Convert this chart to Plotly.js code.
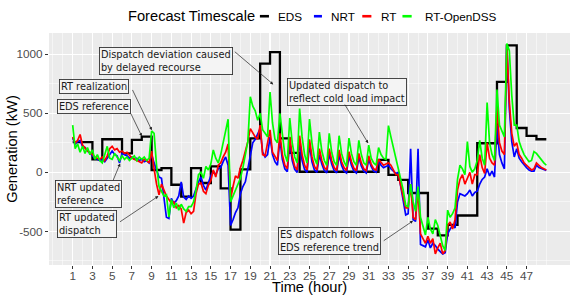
<!DOCTYPE html>
<html>
<head>
<meta charset="utf-8">
<script src="https://cdn.plot.ly/plotly-3.0.1.min.js"></script>
<style>html,body{margin:0;padding:0;background:#fff;}#chart{width:574px;height:299px;}</style>
</head>
<body>
<div id="chart"></div>
<script>
// ---- data ----
var edsHours = [1,2,3,4,5,6,7,8,9,10,11,12,13,14,15,16,17,18,19,20,21,22,23,24,25,26,27,28,29,30,31,32,33,34,35,36,37,38,39,40,41,42,43,44,45,46,47,48,49];
var edsValues = [255,255,110,280,280,160,274,302,20,35,-105,-205,35,-90,50,-135,-485,25,288,920,1018,288,164,5,5,5,5,5,5,5,5,105,-21,-63,-175,-175,-476,-533,-445,-365,-365,246,246,765,1075,375,309,280,280];

var rtTime = [
1,1.25,1.5,1.75, 2,2.25,2.5,2.75, 3,3.25,3.5,3.75, 4,4.25,4.5,4.75, 5,5.25,5.5,5.75, 6,6.25,6.5,6.75,
7,7.25,7.5,7.75, 8,8.25,8.5,8.75, 9,9.25,9.5,9.75, 10,10.25,10.5,10.75, 11,11.25,11.5,11.75, 12,12.25,12.5,12.75,
13,13.25,13.5,13.75, 14,14.25,14.5,14.75, 15,15.25,15.5,15.75, 16,16.25,16.5,16.75, 17,17.25,17.5,17.75, 18,18.25,18.5,18.75,
19,19.25,19.5,19.75, 20,20.25,20.5,20.75, 21,21.25,21.5,21.75, 22,22.25,22.5,22.75, 23,23.25,23.5,23.75, 24,24.25,24.5,24.75,
25,25.25,25.5,25.75, 26,26.25,26.5,26.75, 27,27.25,27.5,27.75, 28,28.25,28.5,28.75, 29,29.25,29.5,29.75, 30,30.25,30.5,30.75,
31,31.25,31.5,31.75, 32,32.25,32.5,32.75, 33,33.25,33.5,33.75, 34,34.25,34.5,34.75, 35,35.25,35.5,35.75, 36,36.25,36.5,36.75,
37,37.25,37.5,37.75, 38,38.25,38.5,38.75, 39,39.25,39.5,39.75, 40,40.25,40.5,40.75, 41,41.25,41.5,41.75, 42,42.25,42.5,42.75,
43,43.25,43.5,43.75, 44,44.25,44.5,44.75, 45,45.25,45.5,45.75, 46,46.25,46.5,46.75, 47,47.25,47.5,47.75, 48,48.25,48.5,48.75,
49];

var nrtValues = [
290,240,260,270, 220,210,180,160, 140,120,110,100, 110,90,120,150, 180,150,140,80, 160,150,140,120,
130,110,120,100, 110,90,100,80, 150,80,20,-40, -50,-200,-380,-390, -220,-260,-240,-200, -80,-210,-230,-200,
-220,-200,-130,-80, -40,-110,-150,-90, -30,10,-20,30, 40,90,130,60, -450,-400,-340,-300, -180,-120,-80,30,
150,250,280,320, 370,170,130,150, 300,150,90,60, 280,110,30,5, 260,100,25,0, 260,100,25,0,
240,90,20,0, 150,70,15,-5, 160,70,15,-5, 150,60,10,-5, 140,60,10,-5, 130,55,10,-5,
110,50,10,0, 100,60,40,50, 60,30,10,-10, 0,-120,-250,-360, -350,200,-400,-415, 200,-610,-620,-630,
-570,-640,-600,-620, -650,-670,-690,-680, -520,-480,-450,-470, -250,-180,-190,-200, -180,-150,-200,-170, -160,-100,-60,-40,
30,-30,10,-40, 400,150,80,30, 1080,540,260,130, 200,120,90,60, 40,20,10,10, 60,40,30,20,
15];

var rtValues = [
300,250,270,320, 230,200,180,170, 150,130,120,110, 130,100,140,200, 220,190,200,170, 180,160,170,140,
120,110,100,90, 80,110,100,80, 180,30,-100,-190, -100,-150,-200,-230, -260,-250,-300,-280, -310,-430,-340,-320,
-350,-330,-180,-100, -90,-160,-180,-110, -70,20,-40,60, 80,130,170,240, -230,-120,-30,-50, 40,100,180,260,
370,330,300,280, 400,150,140,250, 360,170,130,100, 330,150,60,30, 300,140,50,20, 310,150,60,20,
280,130,50,20, 200,100,40,20, 200,100,40,15, 190,90,40,15, 175,90,35,15, 160,80,30,15,
140,70,30,20, 110,80,60,70, 80,60,20,-20, -20,-120,-220,-300, -300,-100,-380,-400, -150,-520,-560,-600,
-540,-600,-560,-690, -640,-600,-690,-660, -450,-420,-480,-400, -150,-60,-20,-100, -50,0,-100,-20, -20,150,40,-10,
250,120,80,60, 550,250,180,150, 1070,600,330,220, 250,150,120,80, 60,40,20,30, 80,60,40,30,
20];

var rtOpenDssValues = [
400,200,240,170, 220,160,210,150, 190,110,150,100, 80,150,220,120, 110,160,130,100, 140,110,130,100,
120,140,100,130, 110,130,100,120, 350,330,60,-120, -160,-200,-190,-380, -230,-300,-260,-320, -270,-310,-330,-290,
-290,-250,-150,-20, 0,-50,50,20, 70,190,120,80, 150,250,330,450, -250,-200,-150,-100, -50,40,140,260,
640,560,520,440, 500,360,330,300, 680,420,280,250, 500,300,150,90, 460,250,130,80, 540,300,150,80,
450,250,120,70, 340,180,100,60, 330,170,90,60, 310,160,90,50, 290,160,90,60, 270,150,80,60,
230,120,80,60, 210,150,120,110, 395,300,200,100, 30,-60,-150,-280, -290,-100,-250,-330, -120,-380,-450,-530,
-380,-480,-520,-400, -450,-550,-620,-660, -320,-380,-350,-300, -60,60,30,-20, 260,50,0,30, 100,270,120,60,
590,250,150,100, 700,400,350,300, 1090,1030,650,400, 400,260,200,150, 120,90,100,175, 160,130,100,80,
60];

var seriesNames = ['EDS', 'NRT', 'RT', 'RT-OpenDSS'];
var seriesColors = ['#000000', '#0000ff', '#ff0000', '#00ff00'];

var xTickVals = [1,3,5,7,9,11,13,15,17,19,21,23,25,27,29,31,33,35,37,39,41,43,45,47];
var xMinorVals = [-1,0,1,2,3,4,5,6,7,8,9,10,11,12,13,14,15,16,17,18,19,20,21,22,23,24,25,26,27,28,29,30,31,32,33,34,35,36,37,38,39,40,41,42,43,44,45,46,47,48,49];
var yTickVals = [-500, 0, 500, 1000];
var yTickText = ['-500', '0', '500', '1000'];
var yMinorVals = [-750, -250, 250, 750];

var legendTitle = 'Forecast Timescale';
var xTitle = 'Time (hour)';
var yTitle = 'Generation (kW)';

var noteTexts = [
  'Dispatch deviation caused<br>by delayed recourse',
  'RT realization',
  'EDS reference',
  'NRT updated<br>reference',
  'RT updated<br>dispatch',
  'Updated dispatch to<br>reflect cold load impact',
  'ES dispatch follows<br>EDS reference trend'
];
var noteBox = [[10.42, 942], [3.21, 729], [3.13, 561], [2.62, -186], [2.42, -438], [28.84, 683], [27.02, -583]];
var noteArrow = [
  [17.28, 1031, 21.33, 744],
  [6.99, 710, 9.02, 356],
  [6.82, 510, 8.01, 305],
  [5.03, -81, 5.81, 75],
  [5.64, -427, 9.69, -201],
  [28.49, 586, 30.95, 246],
  [32.37, -587, 35.50, -410]
];

// ---- traces ----
var traces = [
  {x: edsHours, y: edsValues, type: 'scatter', mode: 'lines', line: {shape: 'hv', color: seriesColors[0], width: 2.3}, name: seriesNames[0]},
  {x: rtTime, y: nrtValues, type: 'scatter', mode: 'lines', line: {color: seriesColors[1], width: 1.7}, name: seriesNames[1]},
  {x: rtTime, y: rtValues, type: 'scatter', mode: 'lines', line: {color: seriesColors[2], width: 1.7}, name: seriesNames[2]},
  {x: rtTime, y: rtOpenDssValues, type: 'scatter', mode: 'lines', line: {color: seriesColors[3], width: 1.7}, name: seriesNames[3]}
];

// ---- annotations ----
var annotations = [];
for (var i = 0; i < noteTexts.length; i++) {
  annotations.push({
    x: noteBox[i][0], y: noteBox[i][1], xref: 'x', yref: 'y',
    text: noteTexts[i], showarrow: false, align: 'left',
    font: {family: 'DejaVu Sans', size: 9.8, color: '#1a1a1a'},
    bgcolor: '#f4f4f4', bordercolor: '#333333', borderwidth: 0.9, borderpad: 1
  });
  annotations.push({
    x: noteArrow[i][2], y: noteArrow[i][3], ax: noteArrow[i][0], ay: noteArrow[i][1],
    xref: 'x', yref: 'y', axref: 'x', ayref: 'y', text: '', showarrow: true,
    arrowhead: 2, arrowsize: 0.9, arrowwidth: 0.7, arrowcolor: '#222222', standoff: 0, startstandoff: 0
  });
}

// axis titles
annotations.push({x: 0.5, y: -0.0946, xref: 'paper', yref: 'paper', xanchor: 'center', yanchor: 'middle',
  text: xTitle, showarrow: false, font: {family: 'Liberation Sans', size: 14.67, color: '#000'}});
annotations.push({x: -0.0715, y: 0.5, xref: 'paper', yref: 'paper', xanchor: 'center', yanchor: 'middle', textangle: -90,
  text: yTitle, showarrow: false, font: {family: 'Liberation Sans', size: 14.67, color: '#000'}});

// legend built as text + key lines (paper coordinates)
var legendY = 1.0723;
annotations.push({x: 0.1486, y: legendY, xref: 'paper', yref: 'paper', xanchor: 'left', yanchor: 'middle',
  text: legendTitle, showarrow: false, font: {family: 'Liberation Sans', size: 14.67, color: '#000'}});
var legendKeyX = [[0.4048, 0.4222], [0.5085, 0.5239], [0.6013, 0.6188], [0.6784, 0.6961]];
var legendTextX = [0.4364, 0.5381, 0.6328, 0.7172];
var shapes = [];
for (var k = 0; k < seriesNames.length; k++) {
  shapes.push({type: 'line', xref: 'paper', yref: 'paper', x0: legendKeyX[k][0], x1: legendKeyX[k][1], y0: legendY, y1: legendY,
    line: {color: seriesColors[k], width: 2.6}});
  annotations.push({x: legendTextX[k], y: legendY, xref: 'paper', yref: 'paper', xanchor: 'left', yanchor: 'middle',
    text: seriesNames[k], showarrow: false, font: {family: 'Liberation Sans', size: 11.73, color: '#000'}});
}

var layout = {
  width: 574, height: 299,
  margin: {l: 48.8, r: 3.7, t: 32.5, b: 34, pad: 0},
  paper_bgcolor: '#ffffff', plot_bgcolor: '#ebebeb',
  showlegend: false,
  font: {family: 'Liberation Sans'},
  xaxis: {
    range: [-1.4, 51.4], tickmode: 'array', tickvals: xTickVals,
    ticks: 'outside', ticklen: 3, tickwidth: 1, tickcolor: '#333333', ticklabelstandoff: -3,
    showgrid: true, gridcolor: '#ffffff', gridwidth: 1.1, zeroline: false, showline: false,
    minor: {tickmode: 'array', tickvals: xMinorVals, showgrid: true, gridcolor: '#ffffff', gridwidth: 0.5, ticks: ''},
    tickfont: {family: 'Liberation Sans', size: 11.73, color: '#4d4d4d'}
  },
  yaxis: {
    range: [-784, 1179], tickmode: 'array', tickvals: yTickVals, ticktext: yTickText,
    ticks: 'outside', ticklen: 3, tickwidth: 1, tickcolor: '#333333',
    showgrid: true, gridcolor: '#ffffff', gridwidth: 1.1, zeroline: false, showline: false,
    minor: {tickmode: 'array', tickvals: yMinorVals, showgrid: true, gridcolor: '#ffffff', gridwidth: 0.5, ticks: ''},
    tickfont: {family: 'Liberation Sans', size: 11.73, color: '#4d4d4d'}
  },
  annotations: annotations,
  shapes: shapes
};

Plotly.newPlot('chart', traces, layout, {displayModeBar: false, staticPlot: true});
</script>
</body>
</html>
